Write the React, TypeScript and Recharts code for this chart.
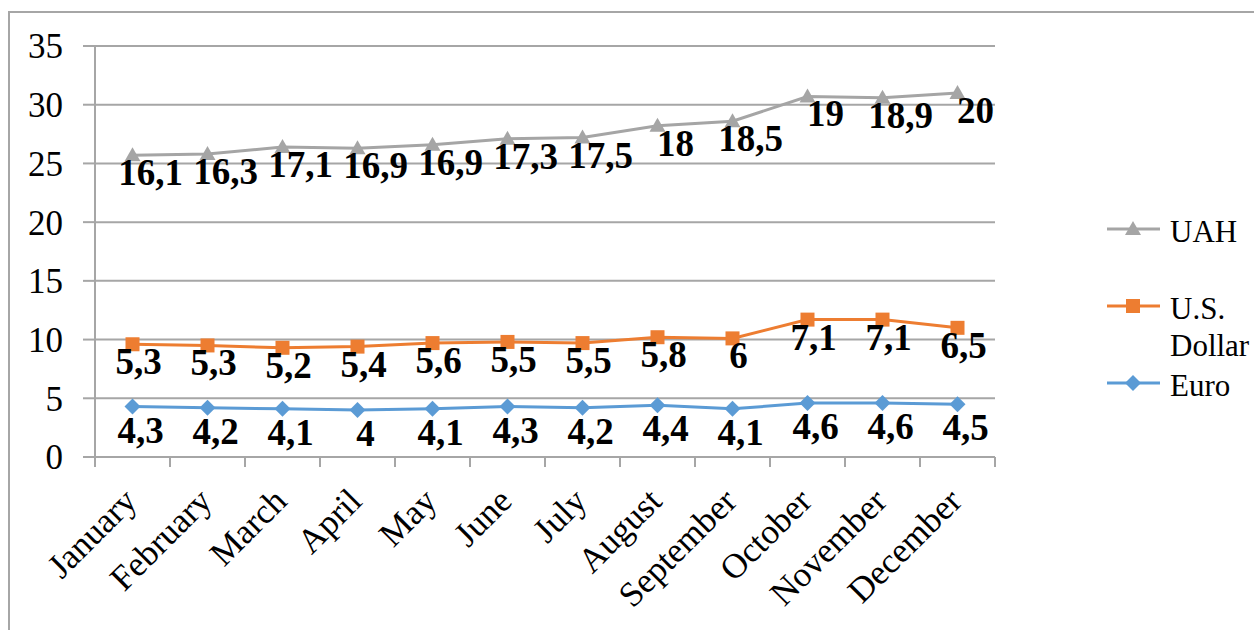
import React from 'react';
import { ComposedChart, Area, XAxis, YAxis, CartesianGrid, LabelList } from 'recharts';

const months = ['January', 'February', 'March', 'April', 'May', 'June', 'July', 'August', 'September', 'October', 'November', 'December'];
const euro = [4.3, 4.2, 4.1, 4, 4.1, 4.3, 4.2, 4.4, 4.1, 4.6, 4.6, 4.5];
const usDollar = [5.3, 5.3, 5.2, 5.4, 5.6, 5.5, 5.5, 5.8, 6, 7.1, 7.1, 6.5];
const uah = [16.1, 16.3, 17.1, 16.9, 16.9, 17.3, 17.5, 18, 18.5, 19, 18.9, 20];
const yTicks = [0, 5, 10, 15, 20, 25, 30, 35];

const data = months.map((month, i) => ({ month, euro: euro[i], usd: usDollar[i], uah: uah[i] }));

const FONT = '"Liberation Serif", "Times New Roman", serif';
const GRID = '#A6A6A6';
const BAND = 900 / months.length;

const fmt = (v: number) => String(v).replace('.', ',');

const Triangle = ({ cx, cy, color }: any) => (
  <polygon points={`${cx},${cy - 8} ${cx - 8},${cy + 6} ${cx + 8},${cy + 6}`} fill={color} />
);
const Square = ({ cx, cy, color }: any) => <rect x={cx - 7} y={cy - 7} width={14} height={14} fill={color} />;
const Diamond = ({ cx, cy, color }: any) => (
  <polygon points={`${cx},${cy - 8} ${cx + 8},${cy} ${cx},${cy + 8} ${cx - 8},${cy}`} fill={color} />
);

const series = [
  { key: 'uah', name: 'UAH', color: '#A5A5A5', values: uah, Marker: Triangle, dx: 18, dy: 30 },
  { key: 'usd', name: 'U.S. Dollar', color: '#ED7D31', values: usDollar, Marker: Square, dx: 6, dy: 30 },
  { key: 'euro', name: 'Euro', color: '#5B9BD5', values: euro, Marker: Diamond, dx: 8, dy: 36 },
];

const MonthTick = ({ x, y, payload, index }: any) => (
  <g>
    <line x1={x - BAND / 2} y1={y} x2={x - BAND / 2} y2={y + 10} stroke={GRID} strokeWidth={2} />
    {index === months.length - 1 && (
      <line x1={x + BAND / 2} y1={y} x2={x + BAND / 2} y2={y + 10} stroke={GRID} strokeWidth={2} />
    )}
    <text
      x={x - 2}
      y={y + 38}
      transform={`rotate(-45, ${x - 2}, ${y + 38})`}
      textAnchor="end"
      dominantBaseline="central"
      fontFamily={FONT}
      fontSize={35}
      fill="#000"
    >
      {payload.value}
    </text>
  </g>
);

const LegendBox = () => {
  const rows = [
    { s: series[0], y: 29, lines: ['UAH'] },
    { s: series[1], y: 106, lines: ['U.S.', 'Dollar'] },
    { s: series[2], y: 183, lines: ['Euro'] },
  ];
  return (
    <svg width={154} height={210} style={{ position: 'absolute', left: 1100, top: 200 }}>
      {rows.map(({ s, y, lines }) => (
        <g key={s.key}>
          <line x1={7} y1={y} x2={60} y2={y} stroke={s.color} strokeWidth={3} />
          <s.Marker cx={33} cy={y} color={s.color} />
          {lines.map((t, j) => (
            <text key={t} x={70} y={y + 2 + j * 37} dominantBaseline="central" fontFamily={FONT} fontSize={31} fill="#000">
              {t}
            </text>
          ))}
        </g>
      ))}
    </svg>
  );
};

export default function App() {
  return (
    <div style={{ position: 'absolute', left: 0, top: 0, width: 1254, height: 630, overflow: 'hidden', background: '#fff' }}>
      <div style={{ position: 'absolute', left: 8, top: 11, width: 1270, height: 650, border: `2px solid ${GRID}` }} />
      <ComposedChart width={1254} height={630} data={data} margin={{ top: 46, right: 259, left: 10, bottom: 0 }}>
        <CartesianGrid vertical={false} stroke={GRID} strokeWidth={2} />
        <XAxis
          dataKey="month"
          scale="band"
          height={173}
          interval={0}
          axisLine={{ stroke: GRID, strokeWidth: 2 }}
          tickLine={false}
          tickSize={0}
          tickMargin={0}
          tick={<MonthTick />}
        />
        <YAxis
          width={85}
          domain={[0, 35]}
          ticks={yTicks}
          interval={0}
          axisLine={{ stroke: GRID, strokeWidth: 2 }}
          tickLine={{ stroke: GRID, strokeWidth: 2 }}
          tickSize={12}
          tickMargin={20}
          tick={{ fontFamily: FONT, fontSize: 35, fill: '#000' }}
        />
        {[...series].reverse().map((s) => (
          <Area
            key={s.key}
            dataKey={s.key}
            name={s.name}
            stackId="total"
            type="linear"
            stroke={s.color}
            strokeWidth={3}
            fill="none"
            fillOpacity={0}
            isAnimationActive={false}
            dot={(p: any) => <s.Marker key={`${s.key}-${p.index}`} cx={p.cx} cy={p.cy} color={s.color} />}
            activeDot={false}
          >
            <LabelList
              dataKey={s.key}
              content={(p: any) => (
                <text
                  x={p.x + s.dx}
                  y={p.y + s.dy}
                  textAnchor="middle"
                  fontFamily={FONT}
                  fontWeight="bold"
                  fontSize={37}
                  fill="#000"
                >
                  {fmt(s.values[p.index])}
                </text>
              )}
            />
          </Area>
        ))}
      </ComposedChart>
      <LegendBox />
    </div>
  );
}
